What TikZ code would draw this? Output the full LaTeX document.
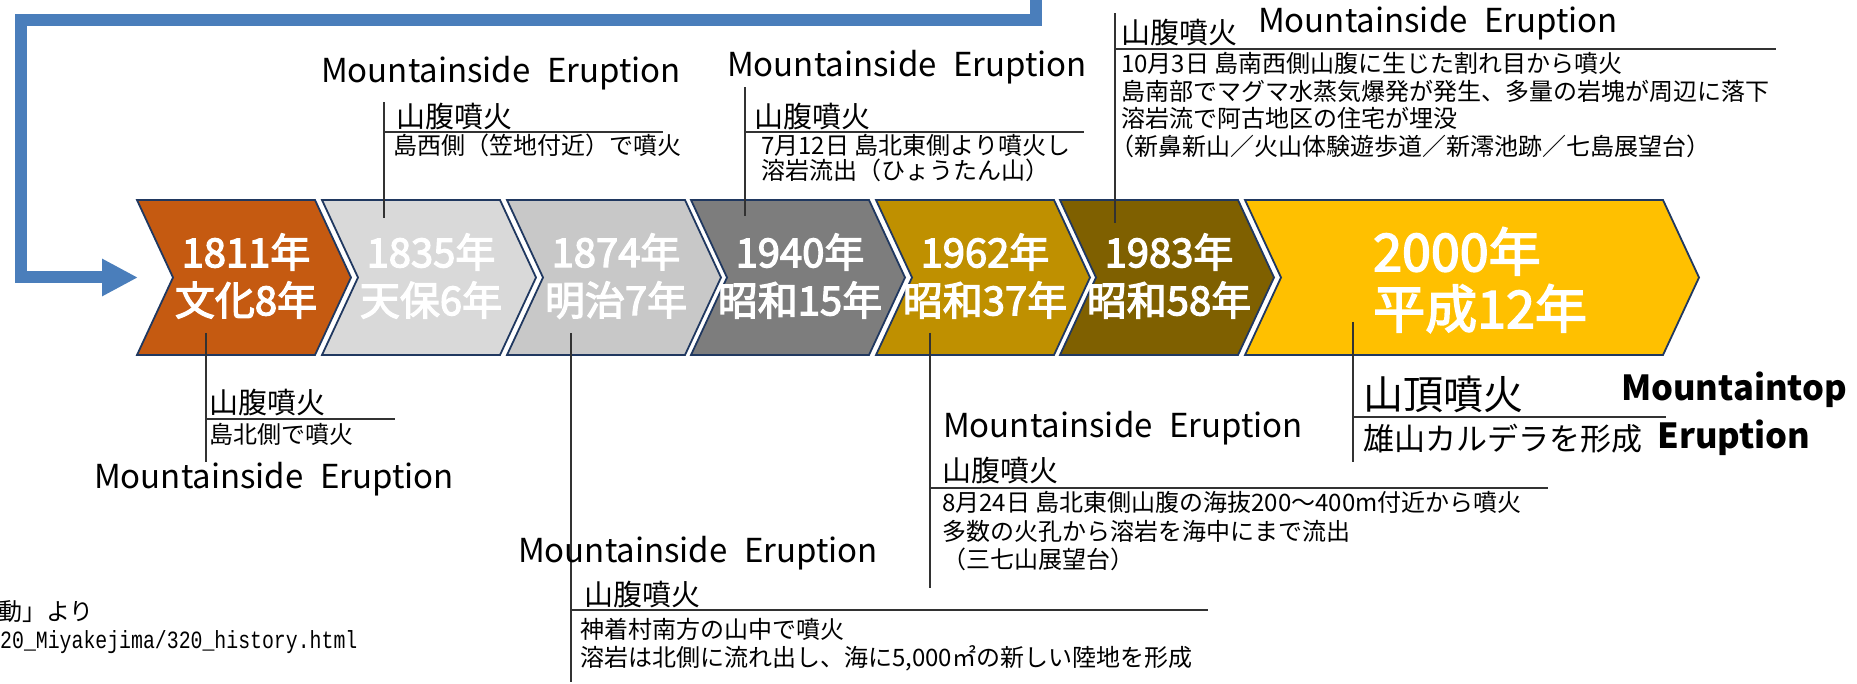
\documentclass[tikz,border=0pt]{standalone}
\usepackage{fontspec}
\usepackage{graphicx}
\usetikzlibrary{arrows.meta}
\newfontfamily\jp{Noto Sans CJK JP}
\newfontfamily\jpm{Noto Sans CJK JP}[FakeBold=3]
\newfontfamily\mono{Liberation Mono}
\definecolor{arrowblue}{RGB}{74,126,187}
\definecolor{chevborder}{RGB}{32,56,96}
\definecolor{cA}{RGB}{197,90,17}
\definecolor{cB}{RGB}{217,217,217}
\definecolor{cC}{RGB}{200,200,200}
\definecolor{cD}{RGB}{125,125,125}
\definecolor{cE}{RGB}{191,144,0}
\definecolor{cF}{RGB}{127,96,0}
\definecolor{cG}{RGB}{255,192,0}
\definecolor{lineclr}{RGB}{50,50,50}
\newcommand\chevshape[3]{%
  \path[chev, fill=#3] (#1,200) -- ++(#2,0) -- ++(36,77.5) -- ++(-36,77.5) -- ++(-#2,0) -- ++(36,-77.5) -- cycle;}
\tikzset{
  chev/.style={draw=chevborder, line width=1.8pt, line join=miter},
  yeartext/.style={text=white, font=\jpm\fontsize{40}{48}\selectfont, align=center, inner sep=0pt},
  bigyeartext/.style={text=white, font=\jpm\fontsize{52}{57}\selectfont, align=left, inner sep=0pt, anchor=west},
  callline/.style={draw=lineclr, line width=1.3pt},
  ttl/.style={font=\jp\fontsize{29}{29}\selectfont, anchor=base west, inner sep=0pt},
  bigttl/.style={font=\jp\fontsize{40}{40}\selectfont, anchor=base west, inner sep=0pt},
  body/.style={font=\jp\fontsize{24}{24}\selectfont, anchor=base west, inner sep=0pt},
  bigbody/.style={font=\jp\fontsize{31}{31}\selectfont, anchor=base west, inner sep=0pt},
  eng/.style={font=\jp\fontsize{33}{33}\selectfont, anchor=base, inner sep=0pt},
  engbold/.style={font=\jp\bfseries\fontsize{34.5}{34.5}\selectfont, anchor=base, inner sep=0pt},
  flowarrow/.style={draw=arrowblue, line width=12pt, line join=miter, -{Triangle[length=36pt,width=35pt]}},
}
\begin{document}
\begin{tikzpicture}[x=1pt,y=-1pt]
\useasboundingbox (0,0) rectangle (1857,684);
% flow arrow
\coordinate (fa0) at (1035.5,-10);
\coordinate (fa1) at (1035.5,20);
\coordinate (fa2) at (21,20);
\coordinate (fa3) at (21,277.5);
\coordinate (fa4) at (138,277.5);
\draw[flowarrow] (fa0) -- (fa1) -- (fa2) -- (fa3) -- (fa4);
% chevrons
\chevshape{137}{178}{cA}
\chevshape{322}{178}{cB}
\chevshape{507}{178}{cC}
\chevshape{691}{178}{cD}
\chevshape{876}{178}{cE}
\chevshape{1060}{178}{cF}
\chevshape{1245}{418}{cG}
\node[yeartext] (y1811) at (246,276) {1811年\\文化8年};
\node[yeartext] (y1835) at (431,276) {1835年\\天保6年};
\node[yeartext] (y1874) at (616,276) {1874年\\明治7年};
\node[yeartext] (y1940) at (800,276) {1940年\\昭和15年};
\node[yeartext] (y1962) at (985,276) {1962年\\昭和37年};
\node[yeartext] (y1983) at (1169,276) {1983年\\昭和58年};
\node[bigyeartext] (y2000) at (1373,280) {2000年\\平成12年};
% callout 1811
\coordinate (v1a) at (206,333); \coordinate (v1b) at (206,462);
\coordinate (h1a) at (206,419); \coordinate (h1b) at (395,419);
\draw[callline] (v1a) -- (v1b);
\draw[callline] (h1a) -- (h1b);
\node[ttl] (t1) at (209,413) {山腹噴火};
\node[body] (b1) at (209,443) {島北側で噴火};
\node[eng] (e1) at (274,488) {Mountainside\hspace{0.5em}Eruption};
% callout 1835
\coordinate (v2a) at (384,218); \coordinate (v2b) at (384,102);
\coordinate (h2a) at (384,132); \coordinate (h2b) at (663,132);
\draw[callline] (v2a) -- (v2b);
\draw[callline] (h2a) -- (h2b);
\node[ttl] (t2) at (396,128) {山腹噴火};
\node[body] (b2) at (393,155) {島西側（笠地付近）で噴火};
\node[eng] (e2) at (501,83) {Mountainside\hspace{0.5em}Eruption};
% callout 1874
\coordinate (v3a) at (571,333); \coordinate (v3b) at (571,682);
\coordinate (h3a) at (571,610); \coordinate (h3b) at (1208,610);
\draw[callline] (v3a) -- (v3b);
\draw[callline] (h3a) -- (h3b);
\node[ttl] (t3) at (584,605) {山腹噴火};
\node[body] (b3a) at (580,638) {神着村南方の山中で噴火};
\node[body] (b3b) at (580,666) {溶岩は北側に流れ出し、海に5,000㎡の新しい陸地を形成};
\node[eng] (e3) at (698,562) {Mountainside\hspace{0.5em}Eruption};
% callout 1940
\coordinate (v4a) at (745,216); \coordinate (v4b) at (745,87);
\coordinate (h4a) at (745,132); \coordinate (h4b) at (1084,132);
\draw[callline] (v4a) -- (v4b);
\draw[callline] (h4a) -- (h4b);
\node[ttl] (t4) at (754,128) {山腹噴火};
\node[body] (b4a) at (761,155) {7月12日 島北東側より噴火し};
\node[body] (b4b) at (761,180) {溶岩流出（ひょうたん山）};
\node[eng] (e4) at (907,77) {Mountainside\hspace{0.5em}Eruption};
% callout 1962
\coordinate (v5a) at (930,333); \coordinate (v5b) at (930,588);
\coordinate (h5a) at (930,488); \coordinate (h5b) at (1548,488);
\draw[callline] (v5a) -- (v5b);
\draw[callline] (h5a) -- (h5b);
\node[ttl] (t5) at (942,481) {山腹噴火};
\node[body] (b5a) at (942,511) {8月24日 島北東側山腹の海抜200～400m付近から噴火};
\node[body] (b5b) at (942,540) {多数の火孔から溶岩を海中にまで流出};
\node[body] (b5c) at (942,568) {（三七山展望台）};
\node[eng] (e5) at (1123,437) {Mountainside\hspace{0.5em}Eruption};
% callout 1983
\coordinate (v6a) at (1115,223); \coordinate (v6b) at (1115,13);
\coordinate (h6a) at (1115,49); \coordinate (h6b) at (1776,49);
\draw[callline] (v6a) -- (v6b);
\draw[callline] (h6a) -- (h6b);
\node[ttl] (t6) at (1121,44) {山腹噴火};
\node[eng] (e6) at (1438,33) {Mountainside\hspace{0.5em}Eruption};
\node[body] (b6a) at (1121,73) {10月3日 島南西側山腹に生じた割れ目から噴火};
\node[body] (b6b) at (1121,101) {島南部でマグマ水蒸気爆発が発生、多量の岩塊が周辺に落下};
\node[body] (b6c) at (1121,128) {溶岩流で阿古地区の住宅が埋没};
\node[body] (b6d) at (1110,156) {（新鼻新山／火山体験遊歩道／新澪池跡／七島展望台）};
% callout 2000
\coordinate (v7a) at (1353,322); \coordinate (v7b) at (1353,462);
\coordinate (h7a) at (1353,417); \coordinate (h7b) at (1666,417);
\draw[callline] (v7a) -- (v7b);
\draw[callline] (h7a) -- (h7b);
\node[bigttl] (t7) at (1363,409) {山頂噴火};
\node[bigbody] (b7) at (1363,450) {雄山カルデラを形成};
\node[engbold] (e7a) at (1734,400) {Mountaintop};
\node[engbold] (e7b) at (1734,448) {Eruption};
% source
\node[font=\jp\fontsize{24}{24}\selectfont, anchor=base east, inner sep=0pt] (src1) at (94,620) {動」より};
\node[anchor=base west, inner sep=0pt] (src2) at (0,648) {\scalebox{0.8}[1]{\mono\fontsize{24.8}{24.8}\selectfont 20\_Miyakejima/320\_history.html}};
\end{tikzpicture}
\end{document}
